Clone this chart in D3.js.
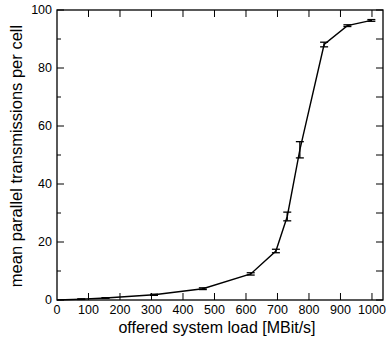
<!DOCTYPE html>
<html lang="en">
<head>
<meta charset="UTF-8">
<title>parallel transmissions</title>
<script src="https://cdn.jsdelivr.net/npm/d3@7"></script>
<style>
    * { margin: 0; padding: 0; }
    html, body { overflow: hidden; background: #fff; }
    text { font-family: "Liberation Sans", Arial, sans-serif; fill: #000; }
</style>
</head>
<body>
<div id="chart"></div>
<script>
// data
const load = [0, 77, 154, 308, 463, 615, 695, 731, 771, 848, 922, 998]
const meanTx = [0, 0.3, 0.7, 1.8, 3.9, 9.0, 16.9, 28.8, 51.8, 88.1, 94.6, 96.4]
const errTx = [0, 0.1, 0.1, 0.2, 0.3, 0.4, 0.6, 1.5, 2.8, 0.8, 0.3, 0.3]
const xTicks = [0, 100, 200, 300, 400, 500, 600, 700, 800, 900, 1000]
const yTicks = [0, 20, 40, 60, 80, 100]
const yMinor = [10, 30, 50, 70, 90]

function drawChart() {
    const width = 388
    const height = 339
    const left = 57, right = 383, top = 10, bottom = 300

    const svg = d3.select('#chart')
        .append('svg')
        .attr('width', width)
        .attr('height', height)

    const x = d3.scaleLinear().domain([0, 1035]).range([left, right])
    const y = d3.scaleLinear().domain([0, 100]).range([bottom, top])

    const ticks = svg.append('g').attr('stroke', '#000').attr('stroke-width', 1)

    // x ticks, bottom and top, pointing inward
    xTicks.filter(d => d > 0).forEach(d => {
        ticks.append('line').attr('x1', x(d)).attr('x2', x(d)).attr('y1', bottom).attr('y2', bottom - 7)
        ticks.append('line').attr('x1', x(d)).attr('x2', x(d)).attr('y1', top).attr('y2', top + 7)
    })
    // y ticks left (major + minor) and right
    yTicks.concat(yMinor).forEach(d => {
        const len = yTicks.includes(d) ? 7 : 4
        ticks.append('line').attr('x1', left).attr('x2', left + len).attr('y1', y(d)).attr('y2', y(d))
        ticks.append('line').attr('x1', right).attr('x2', right - 7).attr('y1', y(d)).attr('y2', y(d))
    })

    svg.append('rect')
        .attr('x', left).attr('y', top)
        .attr('width', right - left).attr('height', bottom - top)
        .attr('fill', 'none').attr('stroke', '#000').attr('stroke-width', 1.3)

    svg.selectAll('text.xt')
        .data(xTicks)
        .join('text')
        .attr('class', 'xt')
        .attr('x', d => x(d))
        .attr('y', 314)
        .attr('text-anchor', 'middle')
        .attr('font-size', 12.5)
        .text(d => d)

    svg.selectAll('text.yt')
        .data(yTicks)
        .join('text')
        .attr('class', 'yt')
        .attr('x', 52)
        .attr('y', d => y(d) + 4)
        .attr('text-anchor', 'end')
        .attr('font-size', 12.5)
        .text(d => d)

    svg.append('text')
        .attr('x', (left + 383) / 2 - 3)
        .attr('y', 333)
        .attr('text-anchor', 'middle')
        .attr('font-size', 16)
        .text('offered system load [MBit/s]')

    svg.append('text')
        .attr('transform', `translate(22, ${(top + bottom) / 2 + 1}) rotate(-90)`)
        .attr('text-anchor', 'middle')
        .attr('font-size', 16.5)
        .text('mean parallel transmissions per cell')

    const pts = load.map((d, i) => ({ x: d, y: meanTx[i], e: errTx[i] }))

    svg.append('path')
        .datum(pts)
        .attr('fill', 'none')
        .attr('stroke', '#000')
        .attr('stroke-width', 1.4)
        .attr('d', d3.line().x(d => x(d.x)).y(d => y(d.y)))

    const bars = svg.append('g').attr('stroke', '#000').attr('stroke-width', 1.3)
    pts.filter(d => d.e > 0).forEach(d => {
        bars.append('line').attr('x1', x(d.x)).attr('x2', x(d.x)).attr('y1', y(d.y - d.e)).attr('y2', y(d.y + d.e))
        ;[d.y - d.e, d.y + d.e].forEach(v => {
            bars.append('line').attr('x1', x(d.x) - 4).attr('x2', x(d.x) + 4).attr('y1', y(v)).attr('y2', y(v))
        })
    })
}

drawChart()
</script>
</body>
</html>
